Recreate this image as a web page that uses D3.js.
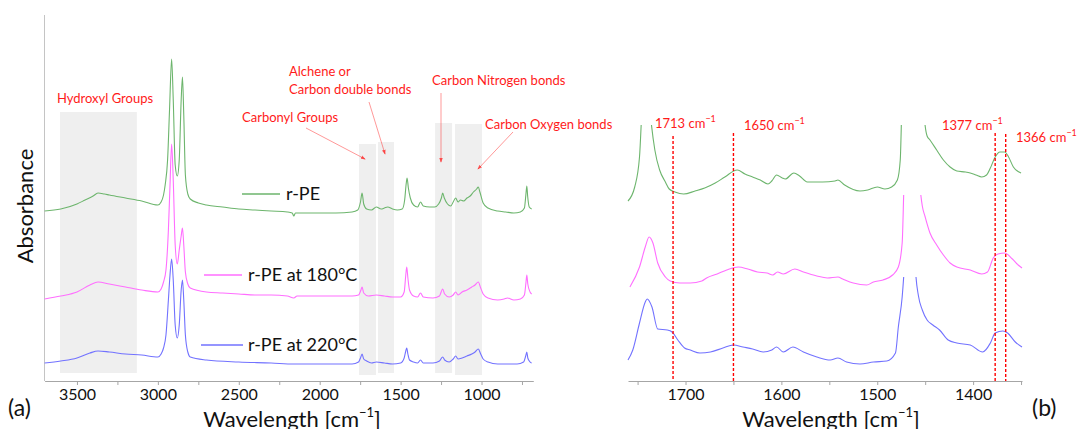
<!DOCTYPE html>
<html>
<head>
<meta charset="utf-8">
<script src="https://cdn.jsdelivr.net/npm/d3@7"></script>
<style>
  body { margin: 0; background: #fff; }
  svg { display: block; font-family: Lato, "Open Sans", sans-serif; }
</style>
</head>
<body>
<svg id="chart" width="1078" height="429"></svg>
<script>
// ---------- data ----------
const seriesNames = ["r-PE", "r-PE at 180°C", "r-PE at 220°C"];

// Full FTIR spectra, [wavenumber cm-1, absorbance (stacked, a.u.)]
const specPE = [[3700,1.70],[3600,1.72],[3500,1.77],[3450,1.81],[3400,1.85],[3370,1.88],[3330,1.87],[3300,1.86],[3200,1.83],[3100,1.80],[3000,1.76],[2980,1.79],[2965,1.86],[2955,1.96],[2940,2.21],[2928,2.71],[2915,3.22],[2905,2.81],[2893,2.16],[2880,2.05],[2868,2.21],[2856,2.81],[2848,3.04],[2840,2.66],[2830,2.06],[2815,1.87],[2800,1.82],[2750,1.78],[2700,1.76],[2600,1.74],[2500,1.72],[2400,1.71],[2300,1.70],[2200,1.69],[2170,1.68],[2160,1.65],[2150,1.68],[2100,1.68],[2000,1.68],[1900,1.68],[1800,1.69],[1765,1.71],[1748,1.79],[1738,1.88],[1728,1.77],[1710,1.72],[1680,1.71],[1650,1.74],[1620,1.72],[1600,1.73],[1580,1.74],[1550,1.72],[1520,1.71],[1490,1.72],[1475,1.81],[1465,1.98],[1460,2.03],[1452,1.93],[1440,1.83],[1420,1.76],[1395,1.74],[1377,1.79],[1360,1.75],[1320,1.74],[1290,1.74],[1265,1.77],[1248,1.83],[1240,1.88],[1230,1.83],[1210,1.77],[1190,1.75],[1175,1.79],[1160,1.83],[1145,1.79],[1130,1.81],[1110,1.80],[1090,1.83],[1070,1.85],[1050,1.89],[1030,1.92],[1020,1.94],[1010,1.89],[990,1.78],[960,1.73],[900,1.70],[850,1.69],[800,1.68],[760,1.69],[735,1.73],[726,1.86],[720,1.95],[715,1.85],[705,1.74],[690,1.72]];

const specPE180 = [[3700,0.82],[3600,0.85],[3500,0.89],[3420,0.96],[3370,0.99],[3300,0.97],[3200,0.94],[3100,0.91],[3000,0.89],[2980,0.92],[2965,0.99],[2950,1.11],[2935,1.51],[2925,1.96],[2915,2.37],[2905,2.01],[2893,1.36],[2880,1.17],[2868,1.31],[2856,1.45],[2848,1.53],[2840,1.36],[2830,1.09],[2815,0.97],[2800,0.93],[2700,0.89],[2600,0.88],[2500,0.87],[2400,0.86],[2300,0.86],[2200,0.85],[2160,0.83],[2140,0.85],[2000,0.85],[1900,0.85],[1800,0.85],[1760,0.86],[1745,0.91],[1738,0.94],[1728,0.88],[1700,0.85],[1650,0.86],[1600,0.85],[1550,0.84],[1500,0.84],[1478,0.89],[1468,1.06],[1462,1.14],[1455,1.03],[1445,0.91],[1420,0.85],[1395,0.84],[1377,0.88],[1360,0.84],[1300,0.83],[1260,0.85],[1240,0.92],[1228,0.87],[1200,0.84],[1175,0.86],[1160,0.89],[1145,0.86],[1120,0.89],[1090,0.91],[1060,0.94],[1040,0.96],[1020,0.99],[1005,0.93],[990,0.87],[960,0.83],[900,0.81],[860,0.82],[840,0.83],[800,0.81],[760,0.82],[735,0.86],[725,0.99],[720,1.06],[714,0.97],[700,0.89],[690,0.87]];

const specPE220 = [[3700,0.18],[3600,0.20],[3500,0.23],[3420,0.28],[3370,0.30],[3300,0.29],[3200,0.27],[3100,0.26],[3000,0.24],[2980,0.27],[2965,0.33],[2950,0.46],[2935,0.81],[2925,1.06],[2915,1.22],[2905,1.01],[2893,0.56],[2880,0.43],[2868,0.56],[2856,0.91],[2848,1.01],[2840,0.81],[2830,0.46],[2815,0.29],[2800,0.24],[2700,0.21],[2500,0.19],[2300,0.18],[2160,0.17],[2000,0.17],[1800,0.17],[1760,0.19],[1748,0.23],[1738,0.27],[1728,0.22],[1710,0.20],[1680,0.18],[1650,0.19],[1600,0.18],[1550,0.17],[1500,0.18],[1478,0.23],[1468,0.30],[1462,0.33],[1455,0.27],[1445,0.21],[1420,0.19],[1395,0.18],[1377,0.21],[1360,0.18],[1300,0.18],[1260,0.20],[1240,0.24],[1228,0.21],[1200,0.19],[1175,0.22],[1160,0.25],[1145,0.22],[1120,0.23],[1090,0.25],[1060,0.27],[1040,0.29],[1020,0.32],[1005,0.27],[990,0.22],[960,0.19],[900,0.17],[850,0.17],[780,0.17],[740,0.19],[727,0.25],[720,0.29],[714,0.23],[700,0.19],[690,0.18]];

// Expanded 1760-1350 cm-1 region
const zoomPE = [[1760,1.80],[1753,1.94],[1748,2.24],[1745,2.8],[1741,3.2],[1737,2.7],[1732,2.31],[1727,2.11],[1721,1.99],[1717,1.92],[1711,1.89],[1702,1.87],[1690,1.90],[1680,1.93],[1669,1.98],[1659,2.04],[1646,2.11],[1638,2.07],[1630,2.04],[1622,2.01],[1614,1.97],[1610,2.00],[1605,2.06],[1599,2.03],[1596,2.02],[1587,2.08],[1581,2.05],[1573,1.99],[1557,1.99],[1544,2.00],[1541,2.01],[1534,1.96],[1518,1.90],[1510,1.91],[1500,1.94],[1492,1.92],[1485,1.94],[1479,2.01],[1476,2.21],[1474,2.9],[1468,4.0],[1458,4.0],[1452,2.75],[1448,2.45],[1445,2.41],[1438,2.31],[1431,2.21],[1424,2.14],[1417,2.10],[1408,2.09],[1403,2.08],[1397,2.06],[1391,2.04],[1386,2.06],[1382,2.13],[1377,2.24],[1372,2.29],[1367,2.29],[1363,2.24],[1358,2.14],[1350,2.08]];

const zoomPE180 = [[1758,0.94],[1748,1.14],[1742,1.34],[1738,1.44],[1734,1.38],[1729,1.18],[1721,1.04],[1716,1.00],[1706,0.98],[1695,0.98],[1683,1.00],[1678,1.03],[1667,1.07],[1657,1.11],[1645,1.14],[1635,1.12],[1625,1.09],[1615,1.08],[1609,1.06],[1604,1.09],[1598,1.07],[1586,1.12],[1577,1.09],[1563,1.05],[1552,1.03],[1541,1.04],[1536,1.02],[1525,0.98],[1511,0.96],[1504,0.99],[1494,1.01],[1484,1.06],[1478,1.14],[1474,1.38],[1472,2.0],[1468,2.6],[1460,2.6],[1456,2.0],[1453,1.75],[1450,1.64],[1445,1.48],[1438,1.36],[1431,1.26],[1424,1.18],[1417,1.14],[1403,1.11],[1391,1.07],[1385,1.09],[1379,1.23],[1374,1.27],[1367,1.28],[1359,1.22],[1353,1.16],[1349,1.13]];

const zoomPE220 = [[1760,0.21],[1755,0.31],[1748,0.58],[1742,0.79],[1740,0.82],[1735,0.74],[1729,0.52],[1719,0.51],[1714,0.49],[1708,0.41],[1701,0.33],[1695,0.31],[1685,0.28],[1674,0.29],[1661,0.33],[1650,0.36],[1640,0.34],[1630,0.32],[1619,0.29],[1610,0.31],[1605,0.34],[1598,0.29],[1588,0.34],[1577,0.29],[1563,0.24],[1549,0.21],[1541,0.23],[1532,0.19],[1518,0.17],[1504,0.19],[1490,0.20],[1481,0.28],[1478,0.54],[1474,0.84],[1472,1.1],[1468,1.8],[1462,1.8],[1460,1.1],[1457,0.85],[1453,0.71],[1448,0.61],[1442,0.56],[1435,0.51],[1426,0.41],[1417,0.38],[1403,0.36],[1390,0.29],[1382,0.38],[1377,0.48],[1369,0.50],[1364,0.48],[1356,0.39],[1349,0.34]];

// Upper absorbance shown for each trace in the expanded view
const zoomCeiling = [2.56, 1.86, 1.04];

// Assigned absorption regions (cm-1)
const bandNames = ["Hydroxyl Groups", "Carbonyl Groups", "Alchene or Carbon double bonds", "Carbon Nitrogen bonds", "Carbon Oxygen bonds"];
const bandRanges = [[3605, 3130], [1757, 1652], [1640, 1541], [1287, 1182], [1164, 997]];

// Marked peak positions in the expanded view (cm-1)
const markedPeaks = [1713, 1650, 1377, 1366];

// Tick labels
const ticksFull = [3500, 3000, 2500, 2000, 1500, 1000];
const ticksZoom = [1700, 1600, 1500, 1400];

// ---------- drawing ----------
const svg = d3.select("#chart");
const colors = ["#6db56d", "#ff6eff", "#7272ff"];
const red = "#ff1a1a";
const axisGray = "#a6a6a6";

const xA = d3.scaleLinear().domain([3700, 680]).range([44.6, 533.3]);
const xB = d3.scaleLinear().domain([1760, 1349]).range([628, 1022]);
const yA = d3.scaleLinear().domain([0, 3.66]).range([381, 15]);
const yB = d3.scaleLinear().domain([0, 2.56]).range([381, 125]);

const defs = svg.append("defs");
defs.append("marker").attr("id", "arrow").attr("viewBox", "0 0 6 6")
  .attr("refX", 5).attr("refY", 3).attr("markerWidth", 5).attr("markerHeight", 5)
  .attr("orient", "auto")
  .append("path").attr("d", "M0,0.8 L6,3 L0,5.2 Z").attr("fill", red).attr("opacity", 0.7);

// shaded regions
const bandTops = [112, 144, 142, 123, 124];
const bandBottoms = [373, 375, 373, 373, 375];
svg.append("g").selectAll("rect").data(bandRanges).join("rect")
  .attr("x", d => xA(d[0]))
  .attr("width", d => xA(d[1]) - xA(d[0]))
  .attr("y", (d, i) => bandTops[i])
  .attr("height", (d, i) => bandBottoms[i] - bandTops[i])
  .attr("fill", "#efefef");

// axes of panel (a)
svg.append("line").attr("x1", 44.5).attr("x2", 44.5).attr("y1", 15).attr("y2", 381)
  .attr("stroke", "#c4c4c4").attr("stroke-width", 1);

function bottomAxis(scale, minorStep, labels, x0, x1) {
  const ticks = d3.range(Math.ceil(Math.min(x0, x1) / minorStep) * minorStep, Math.max(x0, x1) + 1, minorStep);
  const g = svg.append("g").attr("transform", "translate(0,381)")
    .call(d3.axisBottom(scale).tickValues(ticks).tickSize(4).tickSizeOuter(0).tickPadding(4)
      .tickFormat(d => labels.includes(d) ? d : ""));
  g.select(".domain").attr("stroke", axisGray);
  g.selectAll(".tick line").attr("stroke", axisGray);
  g.selectAll(".tick text").attr("font-size", 16).attr("fill", "#111")
    .attr("font-family", "Lato, 'Open Sans', sans-serif");
  return g;
}
bottomAxis(xA, 250, ticksFull, 700, 3700);
bottomAxis(xB, 50, ticksZoom, 1350, 1760);

// full spectra
const lineA = d3.line().x(d => xA(d[0])).y(d => yA(d[1])).curve(d3.curveMonotoneX);
[specPE, specPE180, specPE220].forEach((s, i) => {
  svg.append("path").datum(s).attr("d", lineA)
    .attr("fill", "none").attr("stroke", colors[i]).attr("stroke-width", 1.1);
});

// expanded spectra, each limited to its own band of the panel
const lineB = d3.line().x(d => xB(d[0])).y(d => yB(d[1])).curve(d3.curveMonotoneX);
[zoomPE, zoomPE180, zoomPE220].forEach((s, i) => {
  const top = yB(zoomCeiling[i]);
  defs.append("clipPath").attr("id", "clipB" + i)
    .append("rect").attr("x", 600).attr("y", top).attr("width", 450).attr("height", 381 - top);
  svg.append("path").datum(s).attr("d", lineB)
    .attr("clip-path", `url(#clipB${i})`)
    .attr("fill", "none").attr("stroke", colors[i]).attr("stroke-width", 1.1);
});

// marked peaks
const peakTops = [136, 133, 133, 134];
svg.append("g").selectAll("line").data(markedPeaks).join("line")
  .attr("x1", d => xB(d)).attr("x2", d => xB(d))
  .attr("y1", (d, i) => peakTops[i]).attr("y2", 381)
  .attr("stroke", "#ff0000").attr("stroke-width", 1.4).attr("stroke-dasharray", "3,2");

const peakLabelPos = [[655, 123], [744, 125], [942, 125], [1016, 137]];
markedPeaks.forEach((p, i) => {
  const t = svg.append("text").attr("x", peakLabelPos[i][0]).attr("y", peakLabelPos[i][1])
    .attr("dy", "0.35em").attr("font-size", 13).attr("fill", red);
  t.append("tspan").text(p + " cm");
  t.append("tspan").attr("dy", -6).attr("font-size", 9).text("\u22121");
});

// band annotations
const ann = svg.append("g").attr("font-size", 13).attr("fill", red);
const bandLabelLines = [
  [["Hydroxyl Groups", 57, 98]],
  [["Carbonyl Groups", 242, 117]],
  [["Alchene or", 289, 71], ["Carbon double bonds", 289, 89]],
  [["Carbon Nitrogen bonds", 432, 80]],
  [["Carbon Oxygen bonds", 485, 124]]
];
bandLabelLines.forEach(lines => lines.forEach(([txt, x, y]) => {
  ann.append("text").attr("x", x).attr("y", y).attr("dy", "0.35em").text(txt);
}));
const pointers = [[306, 128, 365, 159], [369, 102, 385, 154], [441, 93, 441, 162], [513, 132, 478, 169]];
svg.append("g").selectAll("line").data(pointers).join("line")
  .attr("x1", d => d[0]).attr("y1", d => d[1]).attr("x2", d => d[2]).attr("y2", d => d[3])
  .attr("stroke", red).attr("stroke-opacity", 0.45).attr("stroke-width", 1)
  .attr("marker-end", "url(#arrow)");

// legend entries
const legendPos = [[242, 280, 194, 286], [204, 242, 275, 248], [201, 243, 345, 248]];
seriesNames.forEach((n, i) => {
  const [x1, x2, y, tx] = legendPos[i];
  svg.append("line").attr("x1", x1).attr("x2", x2).attr("y1", y).attr("y2", y)
    .attr("stroke", colors[i]).attr("stroke-width", 1.3);
  svg.append("text").attr("x", tx).attr("y", y).attr("dy", "0.35em")
    .attr("font-size", 18).attr("fill", "#111").text(n);
});

// axis titles
svg.append("text").attr("transform", "translate(33,206) rotate(-90)")
  .attr("text-anchor", "middle").attr("font-size", 22).attr("fill", "#111").text("Absorbance");

[292, 831].forEach(cx => {
  const t = svg.append("text").attr("x", cx).attr("y", 427).attr("text-anchor", "middle")
    .attr("font-size", 22).attr("fill", "#111");
  t.append("tspan").text("Wavelength [cm");
  t.append("tspan").attr("dy", -10).attr("font-size", 13).text("\u22121");
  t.append("tspan").attr("dy", 10).text("]");
});

svg.append("text").attr("x", 8).attr("y", 416).attr("font-size", 23).attr("fill", "#111").text("(a)");
svg.append("text").attr("x", 1032).attr("y", 416).attr("font-size", 23).attr("fill", "#111").text("(b)");
</script>
</body>
</html>
